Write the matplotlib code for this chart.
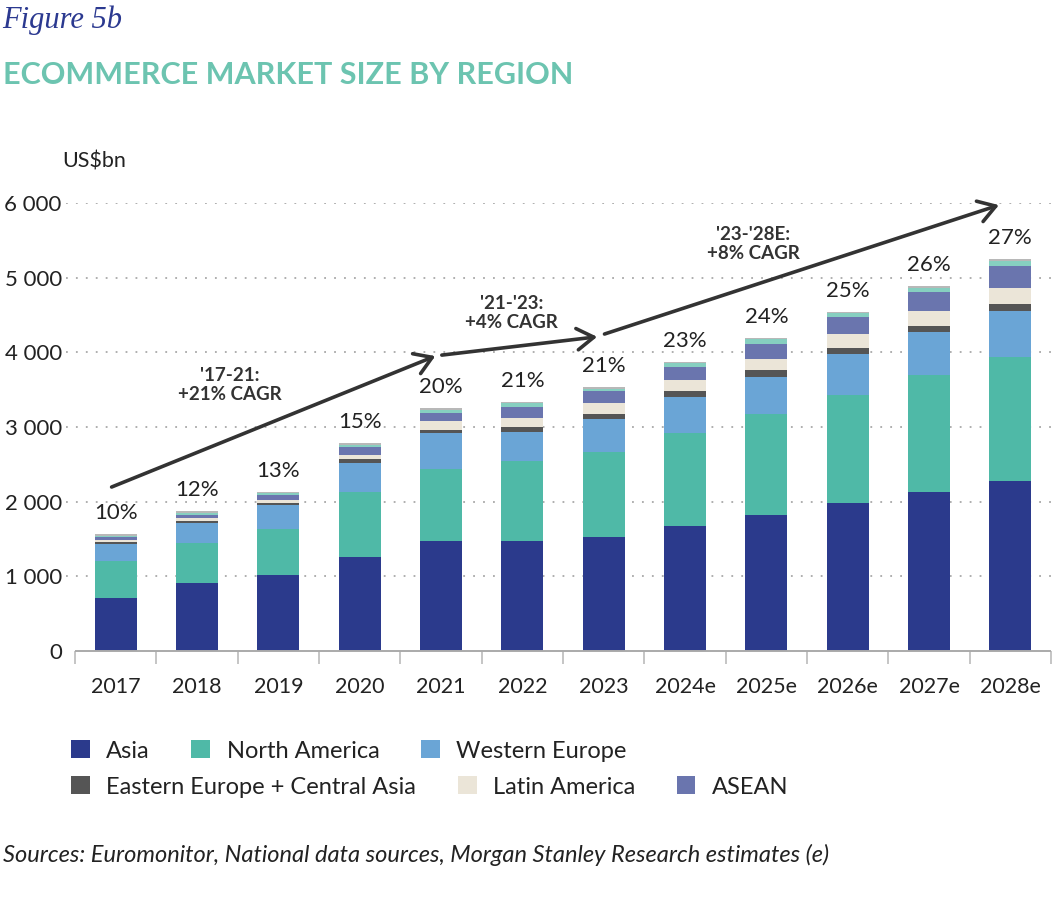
import matplotlib
matplotlib.use("Agg")
import matplotlib.pyplot as plt
from matplotlib.patches import Patch
import numpy as np

plt.rcParams['font.family'] = ['Lato', 'DejaVu Sans']

years = ['2017', '2018', '2019', '2020', '2021', '2022', '2023',
         '2024e', '2025e', '2026e', '2027e', '2028e']
asia = [715, 906, 1018, 1259, 1473, 1473, 1522, 1674, 1821, 1978, 2129, 2276]
north_america = [485, 536, 620, 866, 960, 1067, 1147, 1241, 1352, 1450, 1563, 1661]
western_europe = [229, 268, 313, 396, 482, 397, 437, 486, 500, 553, 584, 620]
eastern_europe = [26, 35, 25, 46, 44, 67, 67, 76, 86, 80, 80, 93]
latin_america = [31, 32, 41, 62, 116, 120, 143, 152, 147, 184, 197, 211]
asean = [36, 48, 71, 98, 112, 147, 165, 178, 205, 227, 258, 298]
other_a = [22, 23, 22, 31, 40, 45, 31, 54, 63, 50, 50, 67]
other_b = [23, 22, 18, 31, 23, 18, 23, 13, 17, 21, 22, 23]
share_labels = ['10%', '12%', '13%', '15%', '20%', '21%', '21%',
                '23%', '24%', '25%', '26%', '27%']

series = [
    ('Asia', asia, '#2b3a8c'),
    ('North America', north_america, '#4fb9a7'),
    ('Western Europe', western_europe, '#6aa5d6'),
    ('Eastern Europe + Central Asia', eastern_europe, '#555555'),
    ('Latin America', latin_america, '#ebe5d8'),
    ('ASEAN', asean, '#6a75ae'),
    ('_other_a', other_a, '#86cfc0'),
    ('_other_b', other_b, '#b8b8b8'),
]

# CAGR arrows (start x, start y, end x, end y) in data units
arrow_x0 = [-0.05, 4.01, 6.01]
arrow_y0 = [2196, 3963, 4245]
arrow_x1 = [3.93, 5.92, 10.86]
arrow_y1 = [3950, 4208, 5972]
cagr_text = ["'17-21:\n+21% CAGR", "'21-'23:\n+4% CAGR", "'23-'28E:\n+8% CAGR"]
cagr_x = [1.4, 4.87, 7.84]
cagr_y = [3560, 4530, 5450]

W, H = 1063, 909
fig = plt.figure(figsize=(W / 100, H / 100), dpi=100)
left_px, right_px, bottom_px, top_px = 66, 1051, 651, 203
ax = fig.add_axes([left_px / W, 1 - bottom_px / H,
                   (right_px - left_px) / W, (bottom_px - top_px) / H])

x = np.arange(len(years))
bottom = np.zeros(len(years))
for name, vals, col in series:
    ax.bar(x, vals, bottom=bottom, width=0.52, color=col, label=name,
           linewidth=0, zorder=3)
    bottom += np.array(vals)

for xi, tot, lab in zip(x, bottom, share_labels):
    ax.annotate(lab, (xi, tot), xytext=(0, 8), textcoords='offset points',
                ha='center', va='bottom', fontsize=16, color='#222222')

for x0, y0, x1, y1 in zip(arrow_x0, arrow_y0, arrow_x1, arrow_y1):
    ax.annotate('', xy=(x1, y1), xytext=(x0, y0),
                arrowprops=dict(arrowstyle='->,head_length=0.55,head_width=0.35',
                                lw=2.6, color='#333333', mutation_scale=22,
                                shrinkA=0, shrinkB=0),
                annotation_clip=False, zorder=5)

for t, cx, cy in zip(cagr_text, cagr_x, cagr_y):
    ax.text(cx, cy, t, ha='center', va='center', fontsize=13.5, fontweight='bold',
            color='#333333', linespacing=1.12, zorder=6)

ax.set_xlim(-0.5 - 9 / 81.3, 11.5)
ax.set_ylim(0, 6000)
ax.set_yticks([0, 1000, 2000, 3000, 4000, 5000, 6000])
ax.set_yticklabels(['0', '1 000', '2 000', '3 000', '4 000', '5 000', '6 000'])
ax.set_xticks(x)
ax.set_xticklabels(years)
ax.set_xticks(np.arange(-0.5, 12, 1), minor=True)
ax.tick_params(axis='x', which='major', length=0, pad=19, labelsize=15.5, colors='#222222')
ax.tick_params(axis='x', which='minor', length=9.5, width=1.2, color='#bbbbbb')
ax.tick_params(axis='y', length=0, pad=3, labelsize=16, colors='#222222')
for s in ['top', 'right', 'left', 'bottom']:
    ax.spines[s].set_visible(False)
ax.hlines(0, -0.5, 11.5, color='#aaaaaa', lw=1.4, zorder=4, clip_on=False)
for gy in [1000, 2000, 3000, 4000, 5000, 6000]:
    ax.axhline(gy, color='#a8a8a8', lw=1.3, linestyle=(0, (1, 4.5)), zorder=1)

# titles
fig.text(2 / W, 1 - 20 / H, 'Figure 5b', family=['Liberation Serif', 'DejaVu Serif'],
         style='italic', fontsize=22, color='#2b3990', va='center', ha='left')
fig.text(3 / W, 1 - 75 / H, 'ECOMMERCE MARKET SIZE BY REGION', fontsize=22,
         fontweight='bold', color='#6cc4b0', va='center', ha='left')
fig.text(62 / W, 1 - 162 / H, 'US$bn', fontsize=15.5, color='#222222',
         va='center', ha='left')

# legend (two rows)
handles = [Patch(facecolor=c, edgecolor='none') for _, _, c in series[:6]]
labels = [n for n, _, _ in series[:6]]
leg_kw = dict(frameon=False, fontsize=17, handlelength=0.8, handleheight=0.8,
              handletextpad=0.7, columnspacing=1.75, borderaxespad=0, borderpad=0,
              labelcolor='#222222')
leg1 = fig.legend(handles[:3], labels[:3], ncol=3, loc='center left',
                  bbox_to_anchor=(71 / W, 1 - 751 / H), **leg_kw)
leg2 = fig.legend(handles[3:], labels[3:], ncol=3, loc='center left',
                  bbox_to_anchor=(71 / W, 1 - 787 / H), **leg_kw)

fig.text(3 / W, 1 - 855 / H,
         'Sources: Euromonitor, National data sources, Morgan Stanley Research estimates (e)',
         fontsize=17, style='italic', color='#222222', va='center', ha='left')

fig.savefig('out.png', dpi=100)
